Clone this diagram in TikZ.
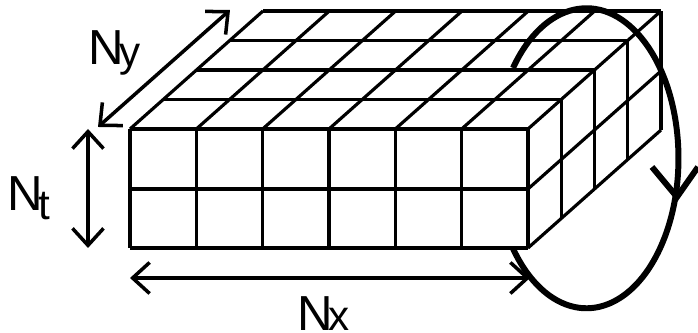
\documentclass[tikz,border=0pt]{standalone}
\usepackage{fontspec}
\setmainfont{Liberation Sans}
\usetikzlibrary{arrows.meta}
\newcommand{\lowsub}[2]{\kern-2.5pt\raisebox{#1}{\fontsize{24}{24}\selectfont #2}}
\tikzset{
  gridline/.style={line width=1.8pt,black},
  dimarrow/.style={line width=2pt,black,{Straight Barb[length=0.34cm,width=0.62cm,line width=2pt]}-{Straight Barb[length=0.34cm,width=0.62cm,line width=2pt]}},
  looparc/.style={line width=3.4pt,black},
  dimlabel/.style={inner sep=0pt,font=\fontsize{28}{28}\selectfont}
}
\begin{document}
\begin{tikzpicture}[x=0.02cm,y=0.02cm]
  \useasboundingbox (0,0) rectangle (698,333);
  % front face
  \foreach \i in {0,...,6}
    \draw[gridline] ({130+66.33*\i},85) -- ({130+66.33*\i},204);
  \foreach \j in {85,144,204}
    \draw[gridline] (130,\j) -- (528,\j);
  % top face
  \foreach \i in {0,...,6}
    \draw[gridline] ({130+66.33*\i},204) -- ({263+66.33*\i},322);
  \foreach \k in {1,...,4}
    \draw[gridline] ({130+33.25*\k},{204+29.5*\k}) -- ({528+33.25*\k},{204+29.5*\k});
  % right face
  \foreach \k in {1,...,4}
    \draw[gridline] ({528+33.25*\k},{85+29.5*\k}) -- ({528+33.25*\k},{204+29.5*\k});
  \draw[gridline] (528,85) -- (661,203);
  \draw[gridline] (528,144) -- (661,262);
  % loop
  \coordinate (looptip) at (677,136);
  \coordinate (loopl) at (652,166);
  \coordinate (loopr) at (698,166);
  \draw[looparc] (513,265) arc[start angle=143,end angle=-143,x radius=92,y radius=150];
  \draw[looparc] (loopl) -- (looptip) -- (loopr);
  % extents
  \coordinate (xa) at (130,55);
  \coordinate (xb) at (530,55);
  \coordinate (ya) at (98,206);
  \coordinate (yb) at (230,323);
  \coordinate (ta) at (88,204);
  \coordinate (tb) at (88,85);
  \draw[dimarrow] (xa) -- (xb);
  \draw[dimarrow] (ya) -- (yb);
  \draw[dimarrow] (ta) -- (tb);
  \node[dimlabel,anchor=base west] (nx) at (297,2) {N\lowsub{0pt}{x}};
  \node[dimlabel,anchor=base west] (ny) at (88,268) {N\lowsub{-1pt}{y}};
  \node[dimlabel,anchor=base west] (nt) at (7,122) {N\lowsub{-5pt}{t}};
\end{tikzpicture}
\end{document}
